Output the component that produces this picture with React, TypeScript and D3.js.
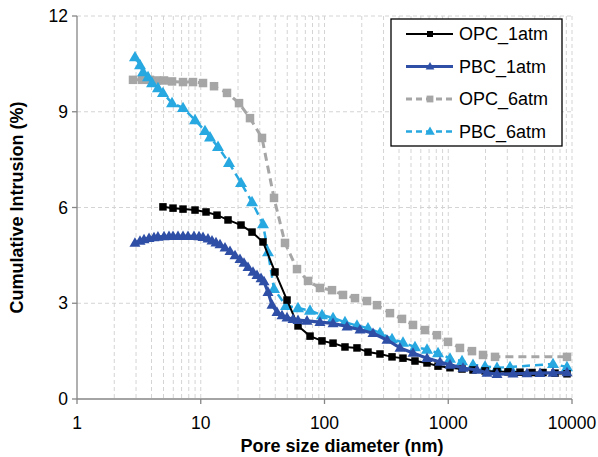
import React from "react";
import * as d3 from "d3";

const W = 598;
const H = 457;

const xTicks = [1, 10, 100, 1000, 10000];
const yTicks = [0, 3, 6, 9, 12];

const opc1Diam = [4.95, 5.97, 7.19, 8.99, 11.03, 13.53, 16.61, 21.15, 25.96, 31.84, 39.8, 49.8, 61.1, 76.4, 95.4, 117.2, 146.4, 183.0, 224.6, 280.8, 351.2, 430.8, 538.5, 673.4, 826.5, 1033, 1292, 1585, 1982, 2477, 3040, 3800, 4751, 5831, 7289, 9112];
const opc1Val = [6.02, 5.98, 5.95, 5.92, 5.86, 5.76, 5.61, 5.45, 5.23, 4.92, 3.98, 3.10, 2.29, 1.97, 1.82, 1.75, 1.63, 1.60, 1.47, 1.41, 1.32, 1.28, 1.19, 1.13, 1.03, 0.98, 0.94, 0.91, 0.88, 0.86, 0.85, 0.84, 0.83, 0.83, 0.81, 0.79];

const pbc1Diam = [2.94, 3.23, 3.48, 3.82, 4.19, 4.51, 5.05, 5.54, 5.97, 6.55, 7.19, 7.89, 8.82, 9.68, 10.43, 11.44, 12.33, 13.28, 14.31, 15.70, 17.24, 18.92, 20.76, 22.36, 24.09, 26.44, 28.48, 30.69, 32.45, 34.95, 37.65, 41.32, 45.35, 49.77, 55.66, 61.08, 72.2, 91.9, 117.2, 152.0, 193.6, 246.6, 320.0, 407.5, 519.0, 673.4, 857.7, 1033, 1316, 1708, 2057, 2477, 3337, 4329, 5513, 7022, 9112];
const pbc1Val = [4.89, 4.95, 5.0, 5.04, 5.06, 5.08, 5.09, 5.1, 5.1, 5.1, 5.1, 5.1, 5.1, 5.09, 5.07, 5.02, 4.96, 4.9, 4.84, 4.74, 4.63, 4.5, 4.38, 4.26, 4.13, 3.98, 3.88, 3.78, 3.68, 3.35, 2.95, 2.72, 2.62, 2.55, 2.5, 2.47, 2.45, 2.41, 2.37, 2.27, 2.17, 2.06, 1.85, 1.6, 1.44, 1.28, 1.16, 1.07, 0.97, 0.91, 0.82, 0.78, 0.79, 0.8, 0.81, 0.82, 0.83];

const opc6Diam = [2.835, 3.35, 3.89, 4.43, 5.05, 5.86, 7.19, 8.66, 10.43, 12.8, 16.3, 20.38, 25.0, 31.26, 39.07, 47.96, 59.95, 73.56, 91.9, 115.0, 141.1, 176.4, 220.5, 265.6, 338.2, 423.0, 519.0, 648.8, 811.3, 995.4, 1244, 1556, 1909, 2387, 9112];
const opc6Val = [10.0, 10.0, 10.0, 9.98, 9.98, 9.95, 9.93, 9.93, 9.9, 9.8, 9.59, 9.27, 8.8, 8.18, 6.3, 4.89, 4.07, 3.70, 3.48, 3.41, 3.26, 3.16, 3.07, 2.94, 2.69, 2.51, 2.32, 2.16, 2.0, 1.79, 1.6, 1.5, 1.38, 1.32, 1.32];

const pbc6Diam = [2.94, 3.23, 3.42, 3.75, 4.04, 4.51, 4.95, 5.86, 7.19, 8.99, 10.82, 11.88, 13.79, 16.92, 21.15, 25.96, 31.84, 34.95, 39.07, 48.85, 61.08, 76.36, 95.45, 117.2, 146.4, 183.0, 224.6, 280.8, 351.2, 430.8, 538.5, 673.4, 826.5, 1033, 1292, 1585, 1982, 2477, 3155, 7022, 9112];
const pbc6Val = [10.71, 10.46, 10.24, 10.09, 9.9, 9.74, 9.59, 9.27, 9.12, 8.74, 8.4, 8.2, 7.9, 7.4, 6.77, 6.17, 5.48, 4.6, 3.45, 2.92, 2.85, 2.77, 2.63, 2.54, 2.41, 2.3, 2.22, 2.07, 1.88, 1.77, 1.63, 1.55, 1.44, 1.27, 1.19, 1.07, 1.02, 0.98, 1.0, 1.1, 1.0];

const seriesNames = ["OPC_1atm", "PBC_1atm", "OPC_6atm", "PBC_6atm"];

type Style = { color: string; width: number; dash: string; marker: "square" | "triangle"; size: number };
const styles: Style[] = [
  { color: "#000000", width: 2, dash: "", marker: "square", size: 7.5 },
  { color: "#2F4FA6", width: 3.2, dash: "", marker: "triangle", size: 11 },
  { color: "#A6A6A6", width: 3, dash: "8,5", marker: "square", size: 8.5 },
  { color: "#27A8E0", width: 2.5, dash: "8,5", marker: "triangle", size: 12 },
];

const seriesData: [number[], number[]][] = [
  [opc1Diam, opc1Val],
  [pbc1Diam, pbc1Val],
  [opc6Diam, opc6Val],
  [pbc6Diam, pbc6Val],
];

const L = 77, R = 572, T = 16, B = 399;

function Marker({ x, y, st }: { x: number; y: number; st: Style }) {
  if (st.marker === "square") {
    const s = st.size;
    return <rect x={x - s / 2} y={y - s / 2} width={s} height={s} fill={st.color} />;
  }
  const s = st.size;
  const h = s * 0.87;
  const p = `${x},${y - h * 0.6} ${x + s / 2},${y + h * 0.4} ${x - s / 2},${y + h * 0.4}`;
  return <polygon points={p} fill={st.color} />;
}

export default function App() {
  const x = d3.scaleLog().domain([1, 10000]).range([L, R]);
  const y = d3.scaleLinear().domain([0, 12]).range([B, T]);

  const gridX: number[] = [];
  for (let e = 0; e < 4; e++) {
    for (let m = 2; m <= 10; m++) gridX.push(m * Math.pow(10, e));
  }

  const line = d3
    .line<[number, number]>()
    .x((d) => x(d[0]))
    .y((d) => y(d[1]));

  const font = "'Liberation Sans', Arial, sans-serif";
  const order = [2, 3, 0, 1];

  return (
    <svg width={W} height={H} style={{ position: "absolute", left: 0, top: 0, background: "#fff" }} fontFamily={font}>
      <rect x={0} y={0} width={W} height={H} fill="#fff" />
      {gridX.map((g) => (
        <line key={"gx" + g} x1={x(g)} x2={x(g)} y1={T} y2={B} stroke="#D4D4D4" strokeWidth={1} strokeDasharray="4,3" />
      ))}
      {yTicks.slice(1).map((t) => (
        <line key={"gy" + t} x1={L} x2={R} y1={y(t)} y2={y(t)} stroke="#D4D4D4" strokeWidth={1} strokeDasharray="4,3" />
      ))}
      <line x1={L} x2={L} y1={T} y2={B} stroke="#868686" strokeWidth={1.3} />
      <line x1={L} x2={R} y1={B} y2={B} stroke="#868686" strokeWidth={1.3} />
      {yTicks.map((t) => (
        <g key={"yt" + t}>
          <line x1={L - 5} x2={L} y1={y(t)} y2={y(t)} stroke="#868686" strokeWidth={1.3} />
          <text x={L - 9} y={y(t)} dy="0.35em" textAnchor="end" fontSize={17.5} fill="#000">{t}</text>
        </g>
      ))}
      {xTicks.map((t) => (
        <g key={"xt" + t}>
          <line x1={x(t)} x2={x(t)} y1={B} y2={B + 5} stroke="#868686" strokeWidth={1.3} />
          <text x={x(t)} y={B + 30} textAnchor="middle" fontSize={17.5} fill="#000">{t}</text>
        </g>
      ))}
      <text x={342} y={452} textAnchor="middle" fontSize={18} fontWeight="bold" fill="#000">Pore size diameter (nm)</text>
      <text transform={`translate(23,${(T + B) / 2}) rotate(-90)`} textAnchor="middle" fontSize={18} fontWeight="bold" fill="#000">Cumulative Intrusion (%)</text>

      {order.map((i) => {
        const st = styles[i];
        const pts: [number, number][] = seriesData[i][0].map((d, k) => [d, seriesData[i][1][k]]);
        return (
          <g key={"s" + i}>
            <path d={line(pts) || ""} fill="none" stroke={st.color} strokeWidth={st.width} strokeDasharray={st.dash} />
            {pts.map((p, k) => (
              <Marker key={k} x={x(p[0])} y={y(p[1])} st={st} />
            ))}
          </g>
        );
      })}

      <g>
        <rect x={391} y={19} width={171} height={127} fill="#fff" stroke="#000" strokeWidth={1.3} />
        {seriesNames.map((n, i) => {
          const st = styles[i];
          const cy = 34 + i * 32.5;
          return (
            <g key={"lg" + n}>
              <line x1={406} x2={453} y1={cy} y2={cy} stroke={st.color} strokeWidth={st.width} strokeDasharray={st.dash ? "6,4" : ""} />
              <Marker x={430} y={cy} st={{ ...st, size: st.size * 0.8 }} />
              <text x={459} y={cy} dy="0.35em" fontSize={18} fill="#000">{n}</text>
            </g>
          );
        })}
      </g>
    </svg>
  );
}
